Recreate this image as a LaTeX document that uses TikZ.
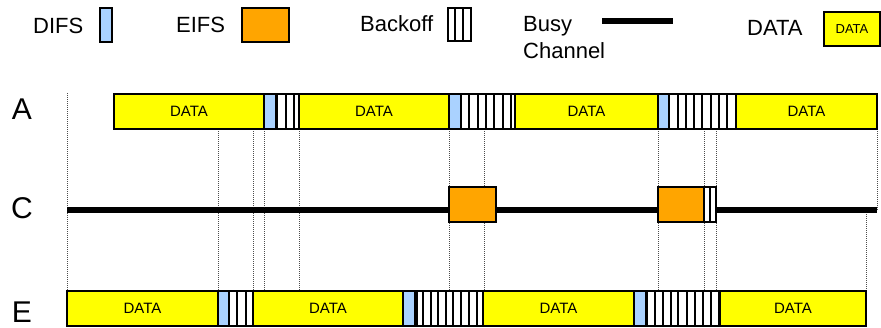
\documentclass[tikz,border=0pt]{standalone}
\usepackage{fontspec}
\setmainfont{Liberation Sans}
\usetikzlibrary{calc}
\definecolor{difsblue}{RGB}{170,210,255}
\definecolor{eifsorange}{RGB}{255,165,0}
\definecolor{datayellow}{RGB}{255,255,0}
\tikzset{
  box/.style={draw=black, line width=1.2pt, inner sep=0pt, outer sep=0pt},
  databox/.style={box, fill=datayellow, font=\fontsize{15}{18}\selectfont},
  difsbox/.style={box, fill=difsblue},
  eifsbox/.style={box, fill=eifsorange},
  bobox/.style={box, fill=white},
  stripe/.style={line width=1.2pt},
  guide/.style={line width=0.7pt, dash pattern=on 1pt off 1pt, black!70},
  busy/.style={line width=6pt},
  lab/.style={font=\fontsize{22}{26}\selectfont, inner sep=0pt},
  rowlab/.style={font=\fontsize{30}{34}\selectfont, inner sep=0pt},
}
% name, style, x1, x2, y1, y2, text
\newcommand\seg[7]{\node[#2, minimum width={(#4-#3)*1pt}, minimum height={(#6-#5)*1pt}] (#1) at ({(#3+#4)/2},{(#5+#6)/2}) {#7};}
% y1, y2, list of stripe x
\newcommand\bostripes[3]{\foreach \s in {#3} {\draw[stripe] (\s,#1) -- (\s,#2);}}
\begin{document}
\begin{tikzpicture}[x=1pt,y=-1pt]
\useasboundingbox (0,0) rectangle (881,327);
% guides
\draw[guide] (67,93) -- (67,291);
\foreach \g in {218,253,264,299,449,484,658,704,716} {\draw[guide] (\g,129) -- (\g,291);}
\draw[guide] (877,129) -- (877,210);
\draw[guide] (866,210) -- (866,291);
% legend
\node[lab, anchor=base west] (ldifs) at (33,33.3) {DIFS};
\seg{ldifsbox}{difsbox}{100}{112}{8}{42}{}
\node[lab, anchor=base west] (leifs) at (176,32.3) {EIFS};
\seg{leifsbox}{eifsbox}{242}{289}{8}{42}{}
\node[lab, anchor=base west] (lbo) at (360,31.7) {Backoff};
\seg{lbobox}{bobox}{448}{471}{8}{41}{}
\bostripes{8}{41}{455,463}
\node[lab, anchor=base west] (lbusy) at (523,31) {Busy};
\node[lab, anchor=base west] (lchan) at (523,58) {Channel};
\draw[busy] (602,21) coordinate (lbusya) -- (673,21) coordinate (lbusyb);
\node[lab, anchor=base west] (ldata) at (747,35) {DATA};
\seg{ldatabox}{databox, font=\fontsize{13}{15}\selectfont}{824}{880}{12}{46}{DATA}
% row labels
\node[rowlab, anchor=base] (rA) at (22,119) {A};
\node[rowlab, anchor=base] (rC) at (22,218) {C};
\node[rowlab, anchor=base] (rE) at (22,322.5) {E};
% row A
\seg{a1}{databox}{114}{264}{94}{129}{DATA}
\seg{a2}{difsbox}{264}{276}{94}{129}{}
\seg{a3}{bobox}{277}{299}{94}{129}{}
\bostripes{94}{129}{286,294}
\seg{a4}{databox}{299}{449}{94}{129}{DATA}
\seg{a5}{difsbox}{449}{461}{94}{129}{}
\seg{a6}{bobox}{461}{515}{94}{129}{}
\bostripes{94}{129}{469,478,486,494,503,511}
\seg{a7}{databox}{515}{658}{94}{129}{DATA}
\seg{a8}{difsbox}{658}{669}{94}{129}{}
\seg{a9}{bobox}{669}{736}{94}{129}{}
\bostripes{94}{129}{678,686,694,702,711,719,727}
\seg{a10}{databox}{736}{877}{94}{129}{DATA}
% row C
\draw[busy] (67,210) coordinate (c0) -- (402.7,210) coordinate (c1);
\draw[busy] (403.3,210) coordinate (c2) -- (633.7,210) coordinate (c3);
\draw[busy] (634.3,210) coordinate (c4) -- (877,210) coordinate (c5);
\seg{c6}{eifsbox}{449}{496}{187}{222}{}
\seg{c7}{eifsbox}{658}{704}{187}{222}{}
\seg{c8}{bobox}{704}{716}{187}{222}{}
\bostripes{187}{222}{710}
% row E
\seg{e1}{databox}{67}{218}{291}{326}{DATA}
\seg{e2}{difsbox}{218}{229}{291}{326}{}
\seg{e3}{bobox}{229}{253}{291}{326}{}
\bostripes{291}{326}{237,246}
\seg{e4}{databox}{253}{403}{291}{326}{DATA}
\seg{e5}{difsbox}{403}{415}{291}{326}{}
\seg{e6}{bobox}{417}{483}{291}{326}{}
\bostripes{291}{326}{423,431,438,446,453,461,469,477}
\seg{e7}{databox}{483}{634}{291}{326}{DATA}
\seg{e8}{difsbox}{634}{646}{291}{326}{}
\seg{e9}{bobox}{647}{719}{291}{326}{}
\bostripes{291}{326}{655,663,671,678,687,695,703,711}
\seg{e10}{databox}{720}{866}{291}{326}{DATA}
\end{tikzpicture}
\end{document}
